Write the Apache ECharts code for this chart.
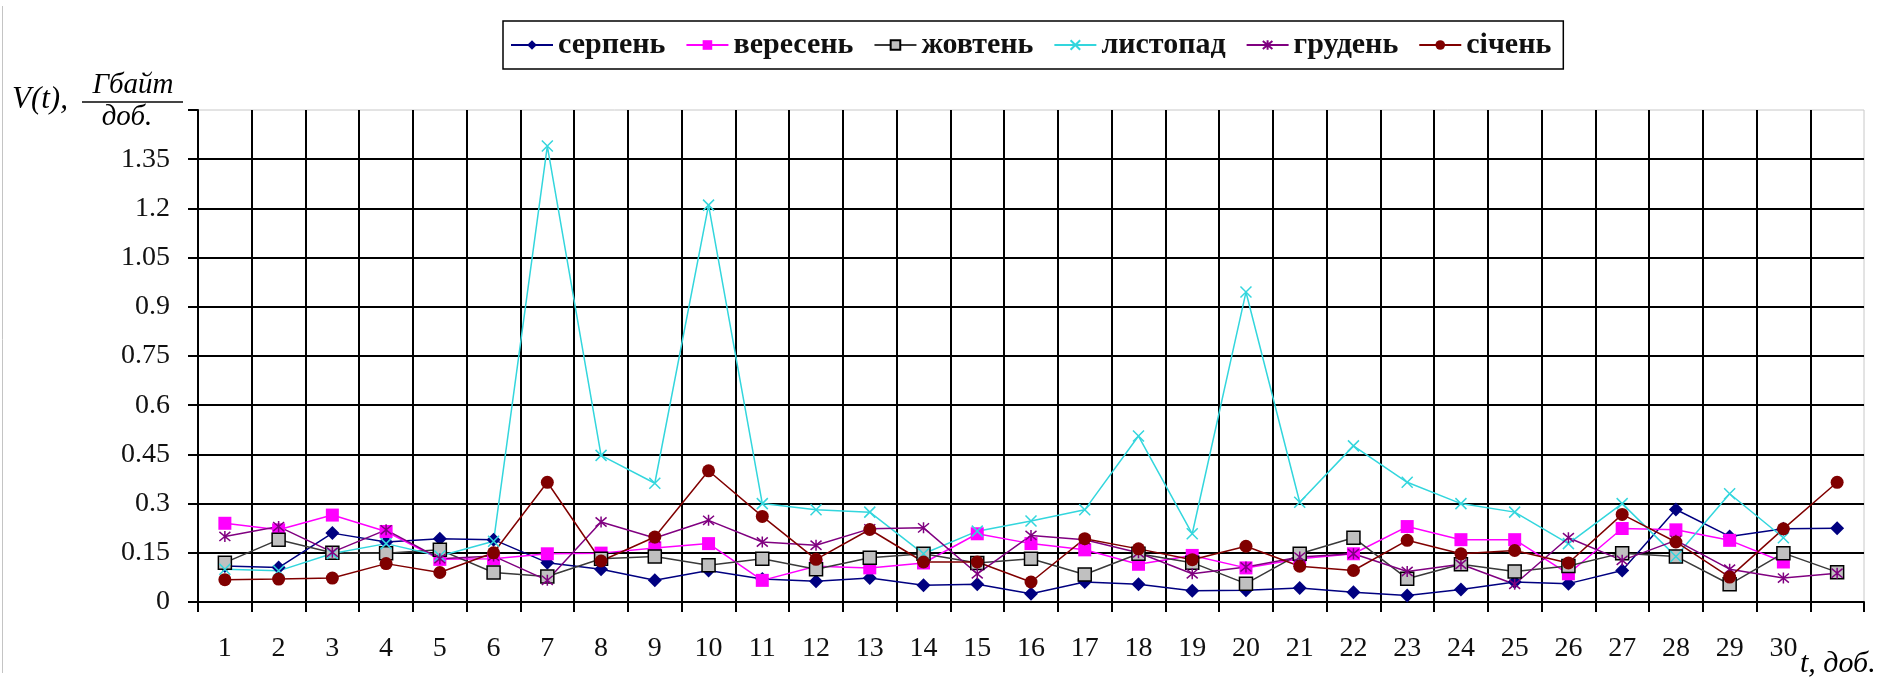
<!DOCTYPE html>
<html>
<head>
<meta charset="utf-8">
<script src="https://cdn.jsdelivr.net/npm/echarts@6/dist/echarts.min.js"></script>
<style>
  html, body { margin: 0; padding: 0; background: #fff; }
  #chart { width: 1887px; height: 678px; }
</style>
</head>
<body>
<div id="chart"></div>
<script>
// Day numbers along the horizontal axis (the 31st day has no label)
const days = ['1','2','3','4','5','6','7','8','9','10','11','12','13','14','15',
              '16','17','18','19','20','21','22','23','24','25','26','27','28','29','30',''];

// Daily traffic volume, GB per day, one array per month
const serpen   = [0.11, 0.105, 0.21, 0.183, 0.193, 0.19, 0.12, 0.10, 0.066, 0.096, 0.07, 0.063, 0.073, 0.051, 0.054,
                  0.025, 0.061, 0.054, 0.034, 0.036, 0.043, 0.03, 0.02, 0.038, 0.061, 0.056, 0.096, 0.282, 0.20, 0.223, 0.225];
const veresen  = [0.24, 0.22, 0.265, 0.215, 0.13, 0.132, 0.147, 0.149, 0.165, 0.178, 0.066, 0.109, 0.104, 0.119, 0.208,
                  0.178, 0.159, 0.115, 0.142, 0.104, 0.132, 0.147, 0.23, 0.19, 0.19, 0.086, 0.224, 0.22, 0.188, 0.122];
const zhovten  = [0.12, 0.19, 0.15, 0.149, 0.159, 0.09, 0.078, 0.132, 0.139, 0.112, 0.132, 0.10, 0.135, 0.147, 0.119,
                  0.132, 0.084, 0.147, 0.12, 0.056, 0.147, 0.196, 0.071, 0.115, 0.093, 0.11, 0.149, 0.139, 0.054, 0.149, 0.091];
const lystopad = [0.10, 0.095, 0.148, 0.178, 0.14, 0.185, 1.39, 0.447, 0.362, 1.21, 0.30, 0.281, 0.274, 0.147, 0.216,
                  0.247, 0.281, 0.506, 0.208, 0.945, 0.304, 0.476, 0.365, 0.30, 0.274, 0.178, 0.30, 0.139, 0.33, 0.196];
const gruden   = [0.20, 0.23, 0.152, 0.22, 0.132, 0.14, 0.066, 0.244, 0.195, 0.249, 0.183, 0.173, 0.223, 0.226, 0.086,
                  0.203, 0.19, 0.15, 0.086, 0.107, 0.137, 0.147, 0.093, 0.115, 0.054, 0.196, 0.127, 0.188, 0.10, 0.073, 0.088];
const sichen   = [0.068, 0.07, 0.073, 0.117, 0.09, 0.15, 0.365, 0.125, 0.198, 0.40, 0.261, 0.13, 0.221, 0.122, 0.122,
                  0.061, 0.193, 0.162, 0.129, 0.17, 0.109, 0.096, 0.188, 0.147, 0.157, 0.119, 0.267, 0.183, 0.076, 0.223, 0.365];

const FONT = '"Liberation Serif", "Times New Roman", serif';

// marker shapes drawn as strokes
const CROSS = 'path://M0,0L10,10M10,0L0,10';
const STAR  = 'path://M0,0L10,10M10,0L0,10M5,-1L5,11';

function lineSeries(name, data, color, symbol, size, extra) {
  return Object.assign({
    name: name,
    type: 'line',
    data: data,
    symbol: symbol,
    symbolSize: size,
    showAllSymbol: true,
    animation: false,
    lineStyle: { color: color, width: 1.5 },
    itemStyle: { color: color }
  }, extra || {});
}

const series = [
  lineSeries('серпень', serpen, '#000080', 'diamond', 14),
  lineSeries('вересень', veresen, '#ff00ff', 'rect', 13),
  lineSeries('жовтень', zhovten, '#3a3a3a', 'rect', 13,
    { itemStyle: { color: '#c0c0c0', borderColor: '#000', borderWidth: 1.5 } }),
  lineSeries('листопад', lystopad, '#33d6dd', CROSS, 11,
    { itemStyle: { color: '#33d6dd', borderColor: '#33d6dd', borderWidth: 1.5 } }),
  lineSeries('грудень', gruden, '#800080', STAR, 11,
    { itemStyle: { color: '#800080', borderColor: '#800080', borderWidth: 1.5 } }),
  lineSeries('січень', sichen, '#800000', 'circle', 13)
];

const chart = echarts.init(document.getElementById('chart'), null, { renderer: 'canvas' });

chart.setOption({
  backgroundColor: '#fff',
  animation: false,
  textStyle: { fontFamily: FONT },
  grid: {
    left: 198, right: 23, top: 110, bottom: 76,
    show: true, borderColor: '#c8c8c8', borderWidth: 1, backgroundColor: '#fff'
  },
  legend: {
    left: 503, top: 21,
    orient: 'horizontal',
    borderColor: '#000', borderWidth: 1.5,
    padding: [9, 12, 9, 7],
    itemWidth: 42, itemHeight: 12, itemGap: 20,
    textStyle: { fontFamily: FONT, fontWeight: 'bold', fontSize: 30, color: '#111' },
    data: ['серпень', 'вересень', 'жовтень', 'листопад', 'грудень', 'січень']
  },
  xAxis: {
    type: 'category',
    data: days,
    boundaryGap: true,
    axisLine: { show: true, lineStyle: { color: '#000', width: 2 } },
    axisTick: { show: true, interval: 0, length: 10, lineStyle: { color: '#000', width: 2 } },
    axisLabel: { interval: 0, margin: 33, fontFamily: FONT, fontSize: 28, color: '#111' },
    splitLine: { show: true, interval: 0, showMaxLine: false, lineStyle: { color: '#000', width: 2 } }
  },
  yAxis: {
    type: 'value',
    min: 0, max: 1.5, interval: 0.15,
    axisLine: { show: true, lineStyle: { color: '#000', width: 2 } },
    axisTick: { show: true, length: 10, lineStyle: { color: '#000', width: 2 } },
    axisLabel: {
      margin: 28, fontFamily: FONT, fontSize: 28, color: '#111',
      formatter: function (v) { return v > 1.4 ? '' : String(+v.toFixed(2)); }
    },
    splitLine: { show: true, showMaxLine: false, lineStyle: { color: '#000', width: 2 } }
  },
  graphic: [
    // thin frame line along the left edge
    { type: 'line', shape: { x1: 2.5, y1: 6, x2: 2.5, y2: 673 }, style: { stroke: '#c4c4c4', lineWidth: 1 } },
    // vertical axis title: V(t), Гбайт / доб.
    { type: 'text', style: { text: 'V(t),', x: 12, y: 100, font: 'italic 31px ' + FONT, fill: '#000', align: 'left', verticalAlign: 'middle' } },
    { type: 'text', style: { text: 'Гбайт', x: 133, y: 85, font: 'italic 29px ' + FONT, fill: '#000', align: 'center', verticalAlign: 'middle' } },
    { type: 'line', shape: { x1: 82, y1: 102, x2: 183, y2: 102 }, style: { stroke: '#444', lineWidth: 2 } },
    { type: 'text', style: { text: 'доб.', x: 127, y: 117, font: 'italic 29px ' + FONT, fill: '#000', align: 'center', verticalAlign: 'middle' } },
    // horizontal axis title
    { type: 'text', style: { text: 't, доб.', x: 1800, y: 664, font: 'italic 30px ' + FONT, fill: '#000', align: 'left', verticalAlign: 'middle' } }
  ],
  series: series
});
</script>
</body>
</html>
